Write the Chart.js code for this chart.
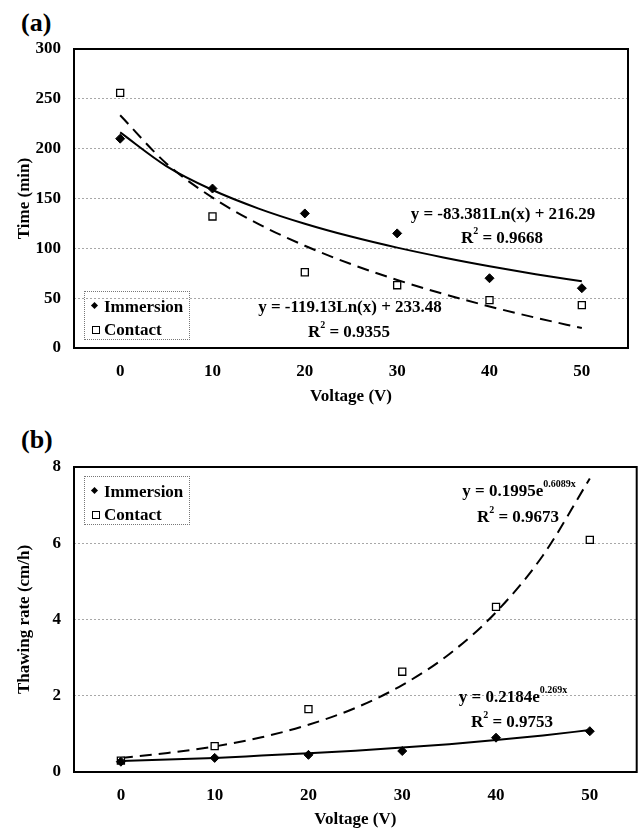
<!DOCTYPE html>
<html>
<head>
<meta charset="utf-8">
<script src="https://cdn.jsdelivr.net/npm/chart.js@4.4.0/dist/chart.umd.min.js"></script>
<style>
    body { margin: 0; background: #fff; width: 643px; height: 830px; position: relative; overflow: hidden;
           font-family: "Liberation Serif", "Times New Roman", serif; font-weight: bold; color: #000; }
    canvas { position: absolute; left: 0; }
    #chartA { top: 0; }
    #chartB { top: 415px; }
    .panel { position: absolute; left: 21px; font-size: 26px; line-height: 1; }
    .note { position: absolute; font-size: 17px; line-height: 1; white-space: nowrap; transform: translate(-50%, -50%); }
    .note sup { font-size: 10px; position: relative; top: -2px; }
    .legend { position: absolute; left: 84px; width: 104px; height: 47px; border: 1px dotted #777; font-size: 17px; }
    .legend div { position: absolute; left: 19px; line-height: 1; }
    .mk { position: absolute; left: -12px; top: 5px; width: 6px; height: 6px; }
    .mk.dia { background: #000; transform: rotate(45deg); width: 5px; height: 5px; }
    .mk.sq { border: 1px solid #000; background: #fff; }
</style>
</head>
<body>
<div class="panel" style="top:10px">(a)</div>
<div class="panel" style="top:427px">(b)</div>
<canvas id="chartA" width="643" height="410"></canvas>
<canvas id="chartB" width="643" height="415"></canvas>

<div class="legend" style="top:291px">
    <div style="top:6px"><span class="mk dia"></span>Immersion</div>
    <div style="top:29px"><span class="mk sq"></span>Contact</div>
</div>
<div class="legend" style="top:476px">
    <div style="top:6px"><span class="mk dia"></span>Immersion</div>
    <div style="top:29px"><span class="mk sq"></span>Contact</div>
</div>

<div class="note" style="left:503px;top:213px">y = -83.381Ln(x) + 216.29</div>
<div class="note" style="left:502px;top:237px">R<sup>2</sup> = 0.9668</div>
<div class="note" style="left:350px;top:306px">y = -119.13Ln(x) + 233.48</div>
<div class="note" style="left:349px;top:331px">R<sup>2</sup> = 0.9355</div>
<div class="note" style="left:519px;top:490px">y = 0.1995e<sup>0.6089x</sup></div>
<div class="note" style="left:518px;top:516px">R<sup>2</sup> = 0.9673</div>
<div class="note" style="left:513px;top:696px">y = 0.2184e<sup>0.269x</sup></div>
<div class="note" style="left:512px;top:721px">R<sup>2</sup> = 0.9753</div>

<script>
// Measured points
const voltages = [0, 10, 20, 30, 40, 50];
const timeImmersion = [210, 160, 135, 115, 70, 60];
const timeContact = [256, 132, 76, 63, 48, 43];
const rateImmersion = [0.27, 0.37, 0.45, 0.55, 0.9, 1.07];
const rateContact = [0.3, 0.68, 1.65, 2.63, 4.33, 6.09];

// Trend curves every 5 V
const trendVoltages = [0, 5, 10, 15, 20, 25, 30, 35, 40, 45, 50];
const timeImmersionTrend = [216.3, 182.5, 158.5, 139.9, 124.7, 111.8, 100.7, 90.9, 82.1, 74.1, 66.9];
const timeContactTrend = [233.5, 185.2, 150.9, 124.3, 102.6, 84.2, 68.3, 54.3, 41.7, 30.4, 20.0];
const rateImmersionTrend = [0.29, 0.33, 0.37, 0.43, 0.49, 0.56, 0.64, 0.73, 0.84, 0.96, 1.10];
const rateContactTrend = [0.37, 0.50, 0.67, 0.91, 1.24, 1.68, 2.28, 3.09, 4.19, 5.68, 7.70];

// Axis ticks
const xTicks = [0, 10, 20, 30, 40, 50];
const timeTicks = [0, 50, 100, 150, 200, 250, 300];
const rateTicks = [0, 2, 4, 6, 8];

const FONT = { family: '"Liberation Serif", "Times New Roman", serif', size: 17, weight: 'bold' };

const pairs = (xs, ys) => xs.map((x, i) => ({ x: x, y: ys[i] }));

// black frame round the plot area
const framePlugin = {
    id: 'frame',
    afterDatasetsDraw(chart) {
        const a = chart.chartArea, ctx = chart.ctx;
        ctx.save();
        ctx.strokeStyle = '#000';
        ctx.lineWidth = 2;
        ctx.strokeRect(a.left, a.top, a.right - a.left, a.bottom - a.top);
        ctx.restore();
    }
};

function makeChart(id, cfg) {
    const ctx = document.getElementById(id).getContext('2d');
    return new Chart(ctx, {
        type: 'scatter',
        data: {
            datasets: [
                { label: 'Immersion', data: pairs(voltages, cfg.immersion), pointStyle: 'rectRot',
                  pointRadius: 4.5, backgroundColor: '#000', borderColor: '#000', borderWidth: 1 },
                { label: 'Contact', data: pairs(voltages, cfg.contact), pointStyle: 'rect',
                  pointRadius: 5, backgroundColor: '#fff', borderColor: '#000', borderWidth: 1.3 },
                { label: 'Immersion trend', data: pairs(trendVoltages, cfg.immersionTrend), showLine: true,
                  pointRadius: 0, borderColor: '#000', borderWidth: 2, cubicInterpolationMode: 'monotone' },
                { label: 'Contact trend', data: pairs(trendVoltages, cfg.contactTrend), showLine: true,
                  pointRadius: 0, borderColor: '#000', borderWidth: 2, borderDash: [12, 7], cubicInterpolationMode: 'monotone' }
            ]
        },
        options: {
            responsive: false,
            animation: false,
            devicePixelRatio: 1,
            layout: { padding: cfg.padding },
            plugins: { legend: { display: false }, tooltip: { enabled: false } },
            scales: {
                x: {
                    type: 'linear', min: -5, max: 55,
                    afterBuildTicks: s => { s.ticks = xTicks.map(v => ({ value: v })); },
                    afterFit: s => { s.height = cfg.xHeight; },
                    grid: { display: false, drawTicks: false },
                    border: { display: false },
                    ticks: { color: '#000', font: FONT, padding: 13, maxRotation: 0 },
                    title: { display: true, text: 'Voltage (V)', color: '#000', font: FONT, padding: { top: 0, bottom: cfg.xTitlePad } }
                },
                y: {
                    type: 'linear', min: cfg.yTicks[0], max: cfg.yTicks[cfg.yTicks.length - 1],
                    afterBuildTicks: s => { s.ticks = cfg.yTicks.map(v => ({ value: v })); },
                    afterFit: s => { s.width = 74; },
                    grid: { color: '#a8a8a8', lineWidth: 1, drawTicks: false },
                    border: { display: false, dash: [2, 2] },
                    ticks: { color: '#000', font: FONT, padding: 13 },
                    title: { display: true, text: cfg.yTitle, color: '#000', font: FONT, padding: { top: 14, bottom: 0 } }
                }
            }
        },
        plugins: [framePlugin]
    });
}

makeChart('chartA', {
    immersion: timeImmersion, contact: timeContact,
    immersionTrend: timeImmersionTrend, contactTrend: timeContactTrend,
    yTicks: timeTicks, yTitle: 'Time (min)',
    padding: { left: 0, top: 49, right: 15, bottom: 0 },
    xHeight: 62, xTitlePad: 3
});

makeChart('chartB', {
    immersion: rateImmersion, contact: rateContact,
    immersionTrend: rateImmersionTrend, contactTrend: rateContactTrend,
    yTicks: rateTicks, yTitle: 'Thawing rate (cm/h)',
    padding: { left: 0, top: 52, right: 4, bottom: 0 },
    xHeight: 58, xTitlePad: 0
});
</script>
</body>
</html>
